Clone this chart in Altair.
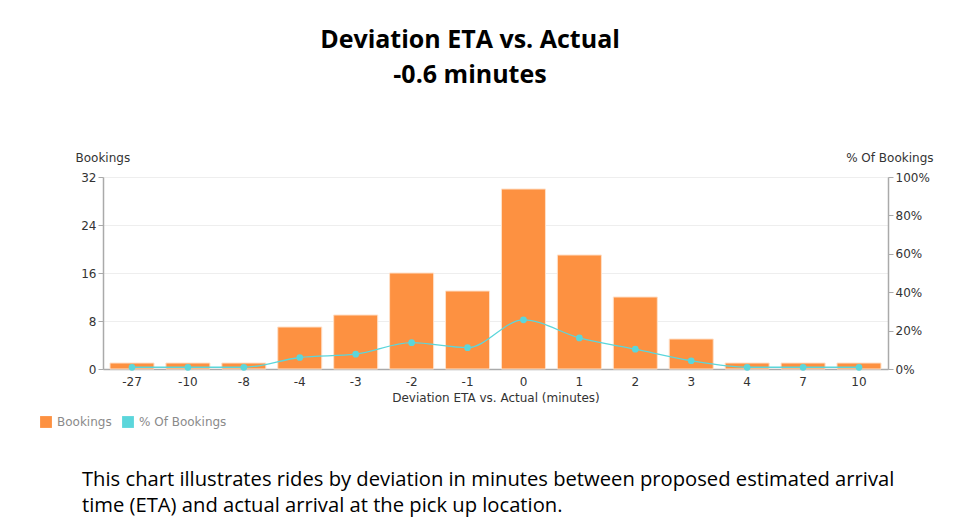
import altair as alt
import pandas as pd

categories = ["-27", "-10", "-8", "-4", "-3", "-2", "-1", "0", "1", "2", "3", "4", "7", "10"]
bookings = [1, 1, 1, 7, 9, 16, 13, 30, 19, 12, 5, 1, 1, 1]
pct_bookings = [0.9, 0.9, 0.9, 6.0, 7.7, 13.7, 11.1, 25.6, 16.2, 10.3, 4.3, 0.9, 0.9, 0.9]
title_lines = ["Deviation ETA vs. Actual", "-0.6 minutes"]
caption_lines = [
    "This chart illustrates rides by deviation in minutes between proposed estimated arrival",
    "time (ETA) and actual arrival at the pick up location.",
]

ORANGE = "#FD9141"
CYAN = "#5BD6DB"
FONT = "DejaVu Sans"
FS = 12

df = pd.DataFrame({
    "cat": categories,
    "bookings": bookings,
    "pct": pct_bookings,
    "s1": ["Bookings"] * len(categories),
    "s2": ["% Of Bookings"] * len(categories),
})

W, H = 785, 192

xenc = alt.X(
    "cat:N", sort=categories,
    scale=alt.Scale(paddingInner=0.213, paddingOuter=0.125),
    axis=alt.Axis(title="Deviation ETA vs. Actual (minutes)", labelAngle=0, ticks=False,
                  labelPadding=7, labelFontSize=FS, labelColor="#333", titleFontSize=FS,
                  titleFontWeight="normal", titleColor="#333", titleFont=FONT, labelFont=FONT,
                  titlePadding=5, domainColor="#aaa", domainWidth=1.5),
)

color_scale = alt.Scale(domain=["Bookings", "% Of Bookings"], range=[ORANGE, CYAN])
legend = alt.Legend(title=None, orient="none", legendX=-63, legendY=239, direction="horizontal",
                    symbolType="square", symbolSize=140, labelFont=FONT, labelFontSize=FS,
                    labelColor="#8a8a8a", columnPadding=10, labelOffset=5, symbolStrokeWidth=0)

bars = alt.Chart(df).mark_bar(stroke="#ffe0c8", strokeWidth=1).encode(
    x=xenc,
    y=alt.Y("bookings:Q", scale=alt.Scale(domain=[0, 32], nice=False),
            axis=alt.Axis(title="Bookings", values=[0, 8, 16, 24, 32], titleAngle=0,
                          titleAlign="left", titleX=-28, titleY=-13, titleFont=FONT,
                          titleFontSize=FS, titleFontWeight="normal", titleColor="#333",
                          labelFont=FONT, labelFontSize=FS, labelColor="#333",
                          gridColor="#eeeeee", domainColor="#aaa", domainWidth=1.5,
                          tickColor="#aaa", tickSize=5, labelPadding=2)),
    color=alt.Color("s1:N", scale=color_scale, legend=legend),
)

line = alt.Chart(df).mark_line(color=CYAN, strokeWidth=1.3, interpolate="monotone").encode(
    x=alt.X("cat:N", sort=categories),
    y=alt.Y("pct:Q", scale=alt.Scale(domain=[0, 100], nice=False),
            axis=alt.Axis(title="% Of Bookings", orient="right", values=[0, 20, 40, 60, 80, 100],
                          labelExpr="datum.value + '%'", titleAngle=0, titleAlign="right",
                          titleX=45, titleY=-13, titleFont=FONT, titleFontSize=FS,
                          titleFontWeight="normal", titleColor="#333", labelFont=FONT,
                          labelFontSize=FS, labelColor="#333", grid=False, domainColor="#aaa",
                          domainWidth=1.5, tickColor="#aaa", tickSize=5, labelPadding=2)),
)

points = alt.Chart(df).mark_point(filled=True, size=45, opacity=1).encode(
    x=alt.X("cat:N", sort=categories),
    y=alt.Y("pct:Q", scale=alt.Scale(domain=[0, 100], nice=False), axis=None),
    color=alt.Color("s2:N", scale=color_scale, legend=legend),
)

tdf = pd.DataFrame({"t": title_lines, "i": [0, 1]})
titles = alt.Chart(tdf).mark_text(font="Open Sans", fontSize=25, fontWeight="bold",
                                   color="#000", align="center", baseline="middle").encode(
    text="t:N",
    x=alt.value(367),
    y=alt.Y("i:Q", scale=alt.Scale(domain=[0, 1], range=[-137, -102]), axis=None),
)

cdf = pd.DataFrame({"t": caption_lines, "i": [0, 1]})
caption = alt.Chart(cdf).mark_text(font="Open Sans", fontSize=20.2, color="#000",
                                   align="left", baseline="alphabetic").encode(
    text="t:N",
    x=alt.value(-21),
    y=alt.Y("i:Q", scale=alt.Scale(domain=[0, 1], range=[309, 335]), axis=None),
)

main = alt.layer(bars, line, points).resolve_scale(y="independent")

chart = alt.layer(main, titles, caption).resolve_scale(y="independent").properties(
    width=W, height=H,
    autosize=alt.AutoSizeParams(type="none"),
    padding={"left": 95, "top": 169, "right": 77, "bottom": 148},
).configure_view(stroke=None).configure(background="white")

chart.save("out.html", embed_options={"renderer": "svg", "actions": False})
